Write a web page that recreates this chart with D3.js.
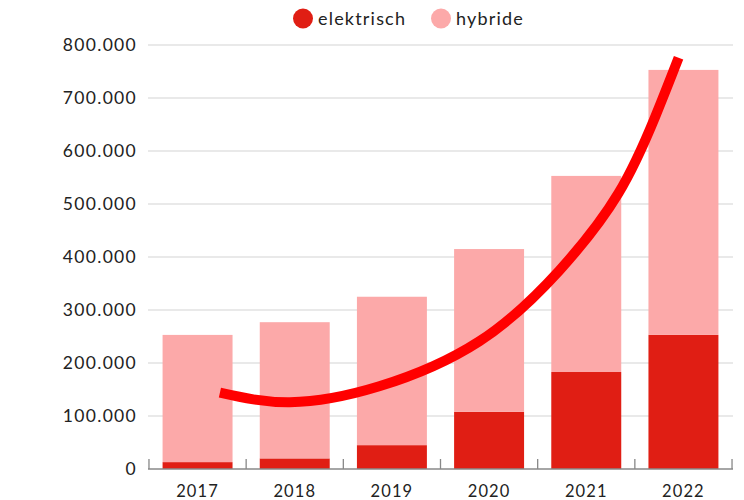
<!DOCTYPE html>
<html>
<head>
<meta charset="utf-8">
<script src="https://cdn.jsdelivr.net/npm/d3@7"></script>
<style>
  body { margin: 0; background: #fff; }
  svg { font-family: Lato, "Open Sans", sans-serif; }
</style>
</head>
<body>
<div id="chart"></div>
<script>
const years = ['2017', '2018', '2019', '2020', '2021', '2022']
const elektrisch = [13000, 20000, 45000, 108000, 183000, 253000]
const hybride = [240000, 257000, 280000, 307000, 370000, 500000]
const yTicks = [0, 100000, 200000, 300000, 400000, 500000, 600000, 700000, 800000]
// trend curve, [year index, value]
const trend = [[0.23, 144000], [0.95, 126000], [1.87, 156000], [2.9, 241000],
  [3.72, 374000], [4.33, 520000], [4.71, 665000], [4.95, 776000]]

const WIDTH = 744, HEIGHT = 500
const MARGIN = { TOP: 45, BOTTOM: 31, LEFT: 148, RIGHT: 11 }
const DARK = '#e01e14', LIGHT = '#fca9a9'

const svg = d3.select('#chart').append('svg')
  .attr('width', WIDTH).attr('height', HEIGHT)

const x = d3.scaleBand().domain(years)
  .range([MARGIN.LEFT, WIDTH - MARGIN.RIGHT])
  .paddingInner(0.28).paddingOuter(0.15)
const y = d3.scaleLinear().domain([0, 800000])
  .range([HEIGHT - MARGIN.BOTTOM, MARGIN.TOP])

const nl = d3.formatLocale({ decimal: ',', thousands: '.', grouping: [3], currency: ['€', ''] })
const fmt = nl.format(',')

// grid
svg.append('g').selectAll('line').data(yTicks.slice(1)).join('line')
  .attr('x1', MARGIN.LEFT).attr('x2', WIDTH - MARGIN.RIGHT)
  .attr('y1', d => y(d)).attr('y2', d => y(d))
  .attr('stroke', '#d4d4d4').attr('stroke-width', 1.2)

// y labels
svg.append('g').selectAll('text').data(yTicks).join('text')
  .attr('x', 137).attr('y', d => y(d))
  .attr('dy', '0.36em')
  .attr('text-anchor', 'end')
  .attr('font-size', 17.5).attr('fill', '#222')
  .attr('letter-spacing', 1.3)
  .text(d => fmt(d))

// stacked bars
const rows = years.map((yr, i) => ({ year: yr, elektrisch: elektrisch[i], hybride: hybride[i] }))
const stack = d3.stack().keys(['elektrisch', 'hybride'])(rows)
const colors = { elektrisch: DARK, hybride: LIGHT }

svg.append('g').selectAll('g').data(stack).join('g')
  .attr('fill', s => colors[s.key])
  .selectAll('rect').data(s => s).join('rect')
  .attr('x', d => x(d.data.year))
  .attr('width', x.bandwidth())
  .attr('y', d => y(d[1]))
  .attr('height', d => y(d[0]) - y(d[1]))

// x axis
const base = y(0)
const bounds = years.map(yr => x(yr) - x.step() * x.paddingInner() / 2)
bounds.push(x(years[5]) + x.bandwidth() + x.step() * x.paddingInner() / 2)
svg.append('line')
  .attr('x1', MARGIN.LEFT).attr('x2', WIDTH - MARGIN.RIGHT)
  .attr('y1', base).attr('y2', base)
  .attr('stroke', '#888').attr('stroke-width', 1.3)
svg.append('g').selectAll('line').data(bounds).join('line')
  .attr('x1', d => d).attr('x2', d => d)
  .attr('y1', base).attr('y2', base - 10)
  .attr('stroke', '#888').attr('stroke-width', 1.3)
svg.append('g').selectAll('text').data(years).join('text')
  .attr('x', d => x(d) + x.bandwidth() / 2)
  .attr('y', 491)
  .attr('dy', '0.36em')
  .attr('text-anchor', 'middle')
  .attr('font-size', 16.5).attr('fill', '#222')
  .attr('letter-spacing', 1.1)
  .text(d => d)

// trend curve
const xc = d3.scaleLinear().domain([0, 5])
  .range([x(years[0]) + x.bandwidth() / 2, x(years[5]) + x.bandwidth() / 2])
svg.append('path')
  .attr('d', d3.line().x(d => xc(d[0])).y(d => y(d[1])).curve(d3.curveNatural)(trend))
  .attr('fill', 'none').attr('stroke', '#ff0000').attr('stroke-width', 10)

// legend
const legend = [{ name: 'elektrisch', c: DARK, x: 303 }, { name: 'hybride', c: LIGHT, x: 441 }]
const lg = svg.append('g').selectAll('g').data(legend).join('g')
  .attr('transform', d => `translate(${d.x},18.5)`)
lg.append('circle').attr('r', 10).attr('fill', d => d.c)
lg.append('text').attr('x', 15).attr('dy', '0.36em')
  .attr('font-size', 18).attr('fill', '#222')
  .attr('letter-spacing', 1.2)
  .text(d => d.name)
</script>
</body>
</html>
